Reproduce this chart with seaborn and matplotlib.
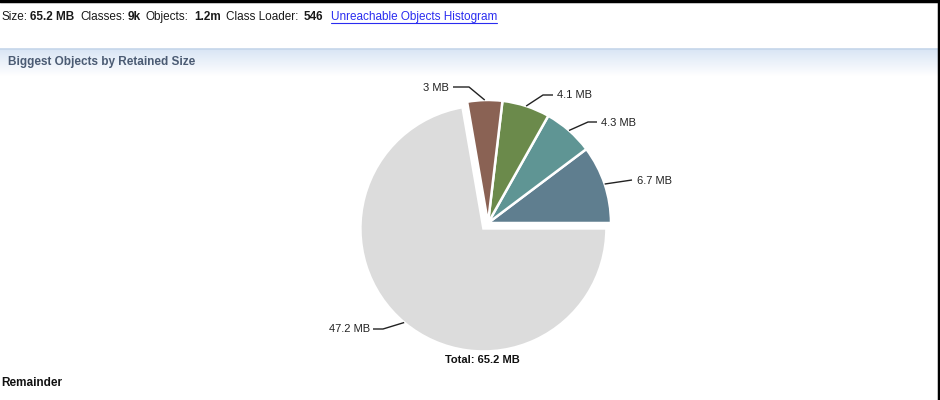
import numpy as np
import matplotlib
matplotlib.use("Agg")
import matplotlib.pyplot as plt
import seaborn as sns
from matplotlib.colors import LinearSegmentedColormap

# ---- data ----
labels = ["6.7 MB", "4.3 MB", "4.1 MB", "3 MB", "47.2 MB"]
sizes_mb = [6.7, 4.3, 4.1, 3.0, 47.2]
slice_colors = ["#5f7e8f", "#5f9594", "#6b8a4b", "#8a6254", "#dcdcdc"]
total_label = "Total: 65.2 MB"
stat_texts = ["Size:", "65.2 MB", "Classes:", "9k", "Objects:", "1.2m", "Class Loader:", "546"]
stat_bold = [False, True, False, True, False, True, False, True]
link_text = "Unreachable Objects Histogram"
header_text = "Biggest Objects by Retained Size"
footer_text = "Remainder"

sns.set_theme(style="white")
plt.rcParams["font.family"] = ["Liberation Sans", "DejaVu Sans"]

W, H = 940, 400
fig = plt.figure(figsize=(9.4, 4.0), dpi=100)
ax = fig.add_axes([0, 0, 1, 1])
Y = lambda y: H - y

# pie
center = (488, Y(223))
R = 123
explode_frac = [0, 0, 0, 0, 0.058]
explode = [e * R for e in explode_frac]
wedges, _ = ax.pie(sizes_mb, colors=slice_colors, startangle=0, counterclock=True,
                   center=center, radius=R, explode=explode,
                   wedgeprops=dict(edgecolor="white", linewidth=1.8))

# leader lines and labels (layout positions)
layout = [
    dict(elbow=(632, 180), end=(632, 180), text=(637, 181), ha="left"),
    dict(elbow=(588, 122), end=(597, 122), text=(601, 123), ha="left"),
    dict(elbow=(543, 95), end=(553, 95), text=(557, 95), ha="left"),
    dict(elbow=(469, 87), end=(453, 87), text=(449, 88), ha="right"),
    dict(elbow=(383, 329), end=(373, 329), text=(370, 329), ha="right"),
]
for w, lab, lay in zip(wedges, labels, layout):
    th = np.deg2rad((w.theta1 + w.theta2) / 2)
    cx, cy = w.center
    sx, sy = cx + R * np.cos(th), cy + R * np.sin(th)
    ex_, ey_ = lay["elbow"]
    nx, ny = lay["end"]
    ax.plot([sx, ex_, nx], [sy, Y(ey_), Y(ny)], color="#222222", lw=1.0,
            solid_capstyle="butt")
    ax.text(lay["text"][0], Y(lay["text"][1]), lab, ha=lay["ha"], va="center",
            fontsize=8, color="#222222")

ax.text(482, Y(360), total_label, ha="center", va="center", fontsize=8,
        fontweight="bold", color="#111111")

# header bar gradient
grad = np.linspace(0, 1, 100).reshape(-1, 1)
cmap = LinearSegmentedColormap.from_list("hdr", ["#d9e5f5", "#ffffff"])
ax.imshow(grad, extent=[0, W, Y(76), Y(49)], cmap=cmap, aspect="auto", zorder=0)
ax.plot([0, W], [Y(49), Y(49)], color="#c5d6ea", lw=1.2)
ax.text(8, Y(62), header_text, ha="left", va="center", fontsize=8.5,
        fontweight="bold", color="#4b5b73")

# top statistic line
xs = [1, 30, 80, 128, 145, 194, 226, 304]
for t, b, x in zip(stat_texts, stat_bold, xs):
    ax.text(x, Y(17), t, ha="left", va="center", fontsize=8.5,
            fontweight="bold" if b else "normal", color="#1a1a1a")
ax.text(331, Y(17), link_text, ha="left", va="center", fontsize=8.5, color="#2a2cf0")
ax.plot([331, 497], [Y(23), Y(23)], color="#2a2cf0", lw=0.8)

ax.text(1, Y(383), footer_text, ha="left", va="center", fontsize=8.5,
        fontweight="bold", color="#111111")

# frame edges
ax.plot([0, W], [Y(0.5), Y(0.5)], color="black", lw=2.5)
ax.plot([W - 1, W - 1], [0, H], color="black", lw=2.5)

ax.set_xlim(0, W)
ax.set_ylim(0, H)
ax.set_aspect("auto")
ax.axis("off")

fig.savefig("out.png", dpi=100)
